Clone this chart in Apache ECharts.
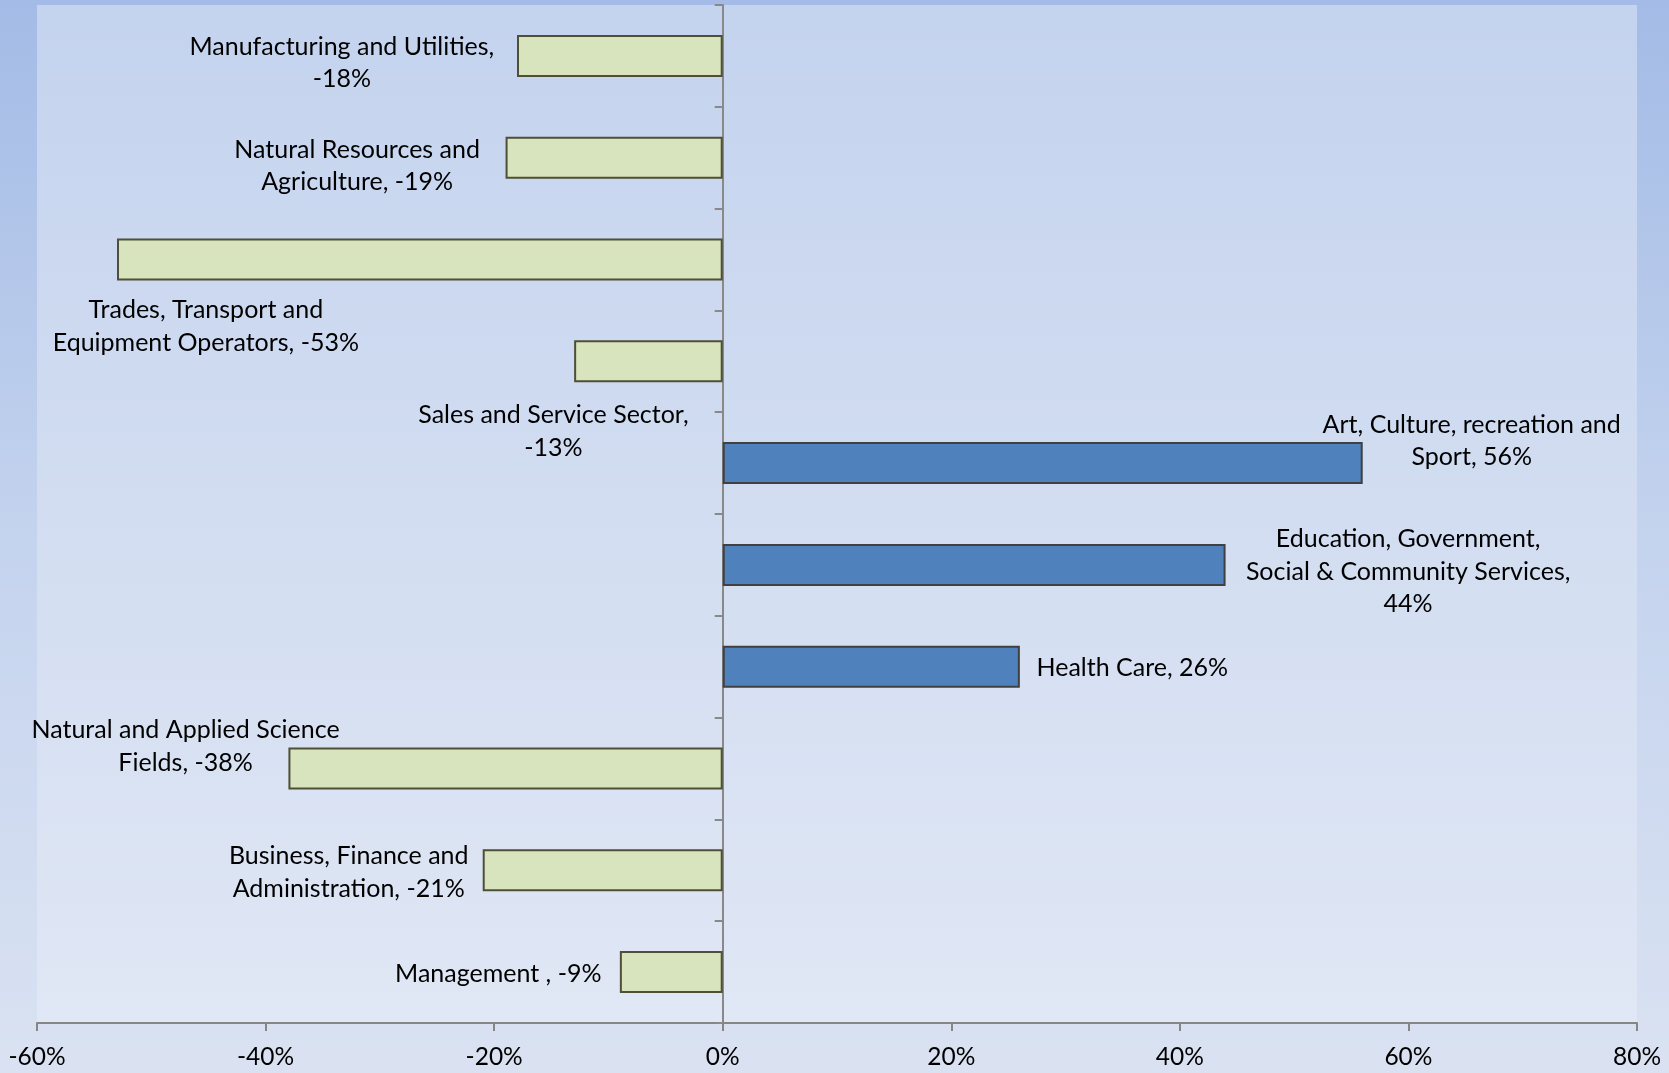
<!DOCTYPE html>
<html>
<head>
<meta charset="utf-8">
<script src="https://cdn.jsdelivr.net/npm/echarts@6/dist/echarts.min.js"></script>
<style>
html,body{margin:0;padding:0;width:1669px;height:1073px;overflow:hidden;}
#chart{width:1669px;height:1073px;}
</style>
</head>
<body>
<div id="chart"></div>
<script>
// ---- data ----
const categories = [
  'Manufacturing and Utilities',
  'Natural Resources and Agriculture',
  'Trades, Transport and Equipment Operators',
  'Sales and Service Sector',
  'Art, Culture, recreation and Sport',
  'Education, Government, Social & Community Services',
  'Health Care',
  'Natural and Applied Science Fields',
  'Business, Finance and Administration',
  'Management '
];
const values = [-18, -19, -53, -13, 56, 44, 26, -38, -21, -9];
const labelTexts = [
  'Manufacturing and Utilities,\n-18%',
  'Natural Resources and\nAgriculture, -19%',
  'Trades, Transport and\nEquipment Operators, -53%',
  'Sales and Service Sector,\n-13%',
  'Art, Culture, recreation and\nSport, 56%',
  'Education, Government,\nSocial & Community Services,\n44%',
  'Health Care, 26%',
  'Natural and Applied Science\nFields, -38%',
  'Business, Finance and\nAdministration, -21%',
  'Management , -9%'
];
const xTicks = { min: -60, max: 80, interval: 20 };

// ---- layout (label offsets from bar centre, px) ----
const labelOffsets = [
  [-278, 7], [-257, 8], [-214, 67], [-95, 70], [429, -22],
  [434, 7], [261, 1], [-320, -22], [-254, 2], [-173, 2]
];

const negFill = '#d7e4bd', negBorder = '#4f4f36';
const posFill = '#4f81bd', posBorder = '#404040';

const seriesData = values.map((v, i) => ({
  value: v,
  itemStyle: {
    color: v < 0 ? negFill : posFill,
    borderColor: v < 0 ? negBorder : posBorder,
    borderWidth: 2
  },
  label: {
    show: true,
    position: 'inside',
    offset: labelOffsets[i],
    formatter: labelTexts[i]
  }
}));

const chart = echarts.init(document.getElementById('chart'), null, { renderer: 'canvas' });
chart.setOption({
  animation: false,
  backgroundColor: new echarts.graphic.LinearGradient(0, 0, 0, 1, [
    { offset: 0, color: '#a3bbe6' },
    { offset: 0.5, color: '#c4d3ee' },
    { offset: 1, color: '#dae2f2' }
  ]),
  textStyle: { fontFamily: 'Lato' },
  grid: {
    left: 37, right: 32, top: 5, bottom: 50,
    show: true, borderWidth: 0,
    backgroundColor: new echarts.graphic.LinearGradient(0, 0, 0, 1, [
      { offset: 0, color: '#c4d3ee' },
      { offset: 0.5, color: '#d2ddf1' },
      { offset: 1, color: '#e0e7f5' }
    ])
  },
  xAxis: {
    type: 'value',
    min: xTicks.min, max: xTicks.max, interval: xTicks.interval,
    splitLine: { show: false },
    axisLine: { show: true, lineStyle: { color: '#868686', width: 2 } },
    axisTick: { show: true, length: 8, lineStyle: { color: '#868686', width: 2 } },
    axisLabel: {
      formatter: '{value}%', color: '#000', fontFamily: 'Lato', fontSize: 24.5,
      lineHeight: 28, margin: 20
    }
  },
  yAxis: {
    type: 'category',
    data: categories,
    inverse: true,
    axisLine: { show: true, onZero: true, lineStyle: { color: '#898989', width: 2 } },
    axisTick: { show: true, length: 8, inside: false, lineStyle: { color: '#898989', width: 2 } },
    axisLabel: { show: false },
    splitLine: { show: false }
  },
  series: [{
    type: 'bar',
    barWidth: 42,
    data: seriesData,
    label: {
      color: '#000', fontFamily: 'Lato', fontSize: 25, lineHeight: 32.5,
      align: 'center', verticalAlign: 'middle'
    },
    z: 1
  }]
});
</script>
</body>
</html>
